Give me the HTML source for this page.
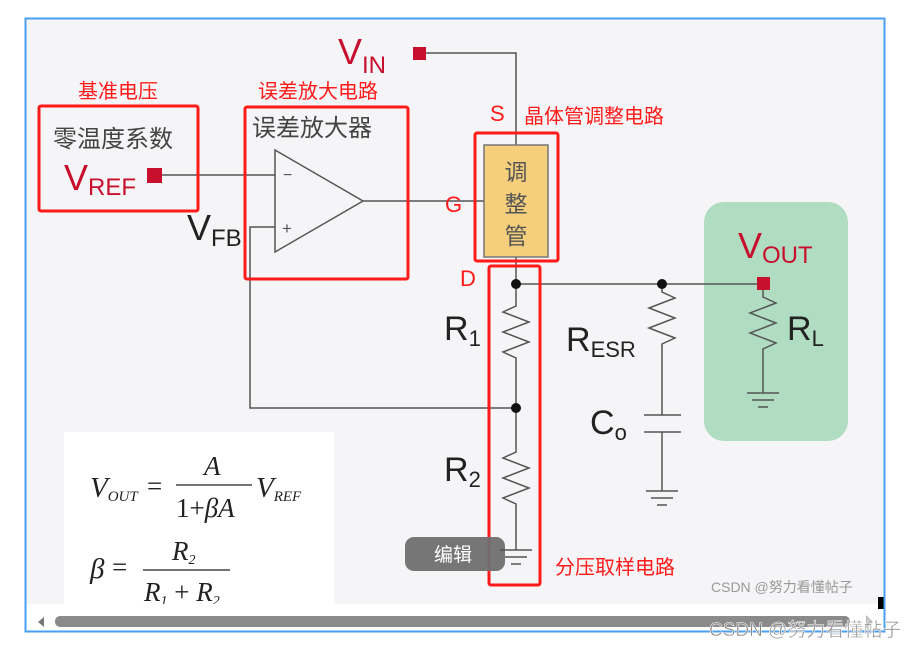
<!DOCTYPE html>
<html><head><meta charset="utf-8"><style>
html,body{margin:0;padding:0;background:#fff;width:916px;height:647px;overflow:hidden}
svg{display:block}
text{font-family:"Liberation Sans","Noto Sans CJK SC",sans-serif}
text.f{font-family:"Liberation Serif","Noto Serif CJK SC",serif}
</style></head><body>
<svg width="916" height="647" viewBox="0 0 916 647" xmlns="http://www.w3.org/2000/svg">
<rect x="25" y="18" width="860" height="614" fill="#fff"/>
<rect x="26" y="19" width="858" height="585" fill="#f5f5f7"/>
<polygon points="44,617 44,627 38,622" fill="#777"/>
<rect x="55" y="616" width="795" height="11" rx="5" fill="#8a8a8a"/>
<polygon points="866,615 866,628 873,622" fill="#bbb"/>
<rect x="878" y="597" width="6" height="12" fill="#000"/>
<rect x="25.5" y="18.5" width="859" height="613" fill="none" stroke="#4a9ff0" stroke-width="2"/>

<rect x="704" y="202" width="144" height="239" rx="20" fill="#b0dcc2"/>

<g stroke="#555" stroke-width="1.5" fill="none">
<polyline points="426,53 516,53 516,145"/>
<line x1="516" y1="257" x2="516" y2="300"/>
<line x1="516" y1="284" x2="762" y2="284"/>
<line x1="162" y1="175" x2="275" y2="175"/>
<polygon points="275,150 275,252 363,201"/>
<line x1="363" y1="201" x2="484" y2="201"/>
<polyline points="275,227 250,227 250,408 516,408"/>
<polyline points="516,300 516,306 503,312 529,322 503,332 529,342 503,352 516,358 516,450"/>
<polyline points="516,450 516,452 503,458 529,468 503,478 529,488 503,498 516,504 516,550"/>
<line x1="500" y1="550" x2="532" y2="550"/><line x1="505" y1="557" x2="527" y2="557"/><line x1="511" y1="564" x2="521" y2="564"/>
<polyline points="662,284 662,292 675,298 649,308 675,318 649,328 675,338 662,344 662,415"/>
<line x1="644" y1="415" x2="681" y2="415"/><line x1="644" y1="432" x2="681" y2="432"/>
<line x1="662" y1="432" x2="662" y2="491"/>
<line x1="646" y1="491" x2="678" y2="491"/><line x1="651" y1="498" x2="673" y2="498"/><line x1="657" y1="505" x2="667" y2="505"/>
<polyline points="763,290 763,297 776,303 750,313 776,323 750,333 776,343 763,349 763,393"/>
<line x1="747" y1="393" x2="779" y2="393"/><line x1="752" y1="400" x2="774" y2="400"/><line x1="758" y1="407" x2="768" y2="407"/>
</g>
<g fill="#111"><circle cx="516" cy="284" r="5"/><circle cx="662" cy="284" r="5"/><circle cx="516" cy="408" r="5"/></g>
<text x="283" y="180" font-size="16" fill="#555">−</text>
<text x="282" y="234" font-size="17" fill="#555">+</text>

<g fill="#c8102e"><rect x="413" y="47" width="13" height="13"/><rect x="147" y="168" width="15" height="15"/><rect x="757" y="277" width="13" height="13"/></g>

<rect x="484" y="145" width="64" height="112" fill="#f5cf7b" stroke="#777" stroke-width="1.5"/>
<g font-size="23" fill="#555" text-anchor="middle"><text x="516" y="180">调</text><text x="516" y="212">整</text><text x="516" y="244">管</text></g>

<text x="53" y="147" font-size="24" fill="#444">零温度系数</text>
<text x="252" y="136" font-size="24" fill="#444">误差放大器</text>
<text x="64" y="190" font-size="36" fill="#c8102e">V<tspan font-size="24" dy="5">REF</tspan></text>
<text x="338" y="64" font-size="36" fill="#c8102e">V<tspan font-size="24" dy="9">IN</tspan></text>
<text x="738" y="258" font-size="36" fill="#c8102e">V<tspan font-size="24" dy="5">OUT</tspan></text>
<text x="187" y="240" font-size="36" fill="#222">V<tspan font-size="24" dy="6">FB</tspan></text>
<text x="444" y="340" font-size="34" fill="#222">R<tspan font-size="22" dy="6">1</tspan></text>
<text x="444" y="481" font-size="34" fill="#222">R<tspan font-size="22" dy="6">2</tspan></text>
<text x="566" y="351" font-size="34" fill="#222">R<tspan font-size="22" dy="6">ESR</tspan></text>
<text x="590" y="434" font-size="34" fill="#222">C<tspan font-size="22" dy="6">o</tspan></text>
<text x="787" y="340" font-size="34" fill="#222">R<tspan font-size="22" dy="6">L</tspan></text>

<g fill="none" stroke="#ff1a1a" stroke-width="3">
<rect x="39" y="106" width="159" height="105" rx="2"/>
<rect x="245" y="107" width="163" height="172" rx="2"/>
<rect x="475" y="133" width="83" height="128" rx="2"/>
<rect x="489" y="266" width="51" height="319" rx="2"/>
</g>
<g fill="#ff1a1a">
<text x="78" y="98" font-size="20">基准电压</text>
<text x="258" y="98" font-size="20">误差放大电路</text>
<text x="524" y="123" font-size="20">晶体管调整电路</text>
<text x="490" y="121" font-size="22">S</text>
<text x="445" y="212" font-size="22">G</text>
<text x="460" y="286" font-size="22">D</text>
<text x="555" y="574" font-size="20">分压取样电路</text>
</g>

<rect x="64" y="432" width="270" height="172" fill="#fff"/>
<g fill="#222">
<text class="f" x="90" y="497" font-size="29" font-style="italic">V<tspan font-size="15" dy="4">OUT</tspan></text>
<text class="f" x="147" y="495" font-size="27">=</text>
<text class="f" x="204" y="475" font-size="27" font-style="italic">A</text>
<line x1="176" y1="485" x2="252" y2="485" stroke="#222" stroke-width="1.3"/>
<text class="f" x="176" y="517" font-size="27">1+<tspan font-style="italic">βA</tspan></text>
<text class="f" x="256" y="497" font-size="29" font-style="italic">V<tspan font-size="15" dy="4">REF</tspan></text>
<text class="f" x="90" y="578" font-size="29" font-style="italic">β</text>
<text class="f" x="112" y="576" font-size="27">=</text>
<text class="f" x="172" y="560" font-size="27" font-style="italic">R<tspan font-size="14" dy="4">2</tspan></text>
<line x1="143" y1="570" x2="230" y2="570" stroke="#222" stroke-width="1.3"/>
<text class="f" x="144" y="601" font-size="27" font-style="italic">R<tspan font-size="14" dy="4">1</tspan><tspan dy="-4" font-style="normal"> + </tspan>R<tspan font-size="14" dy="4">2</tspan></text>
</g>
<rect x="64" y="604" width="270" height="10" fill="#fff"/>

<rect x="405" y="537" width="100" height="34" rx="9" fill="#6f6f6f" opacity="0.95"/>
<text x="434" y="561" font-size="19" fill="#fff">编辑</text>
<g stroke="#555" stroke-width="1.5"><line x1="500" y1="550" x2="505" y2="550"/></g>

<text x="711" y="592" font-size="14" fill="#999">CSDN @努力看懂帖子</text>
<text x="709" y="636" font-size="19" fill="#888" stroke="#fff" stroke-width="0.5">CSDN @努力看懂帖子</text>
</svg>
</body></html>
